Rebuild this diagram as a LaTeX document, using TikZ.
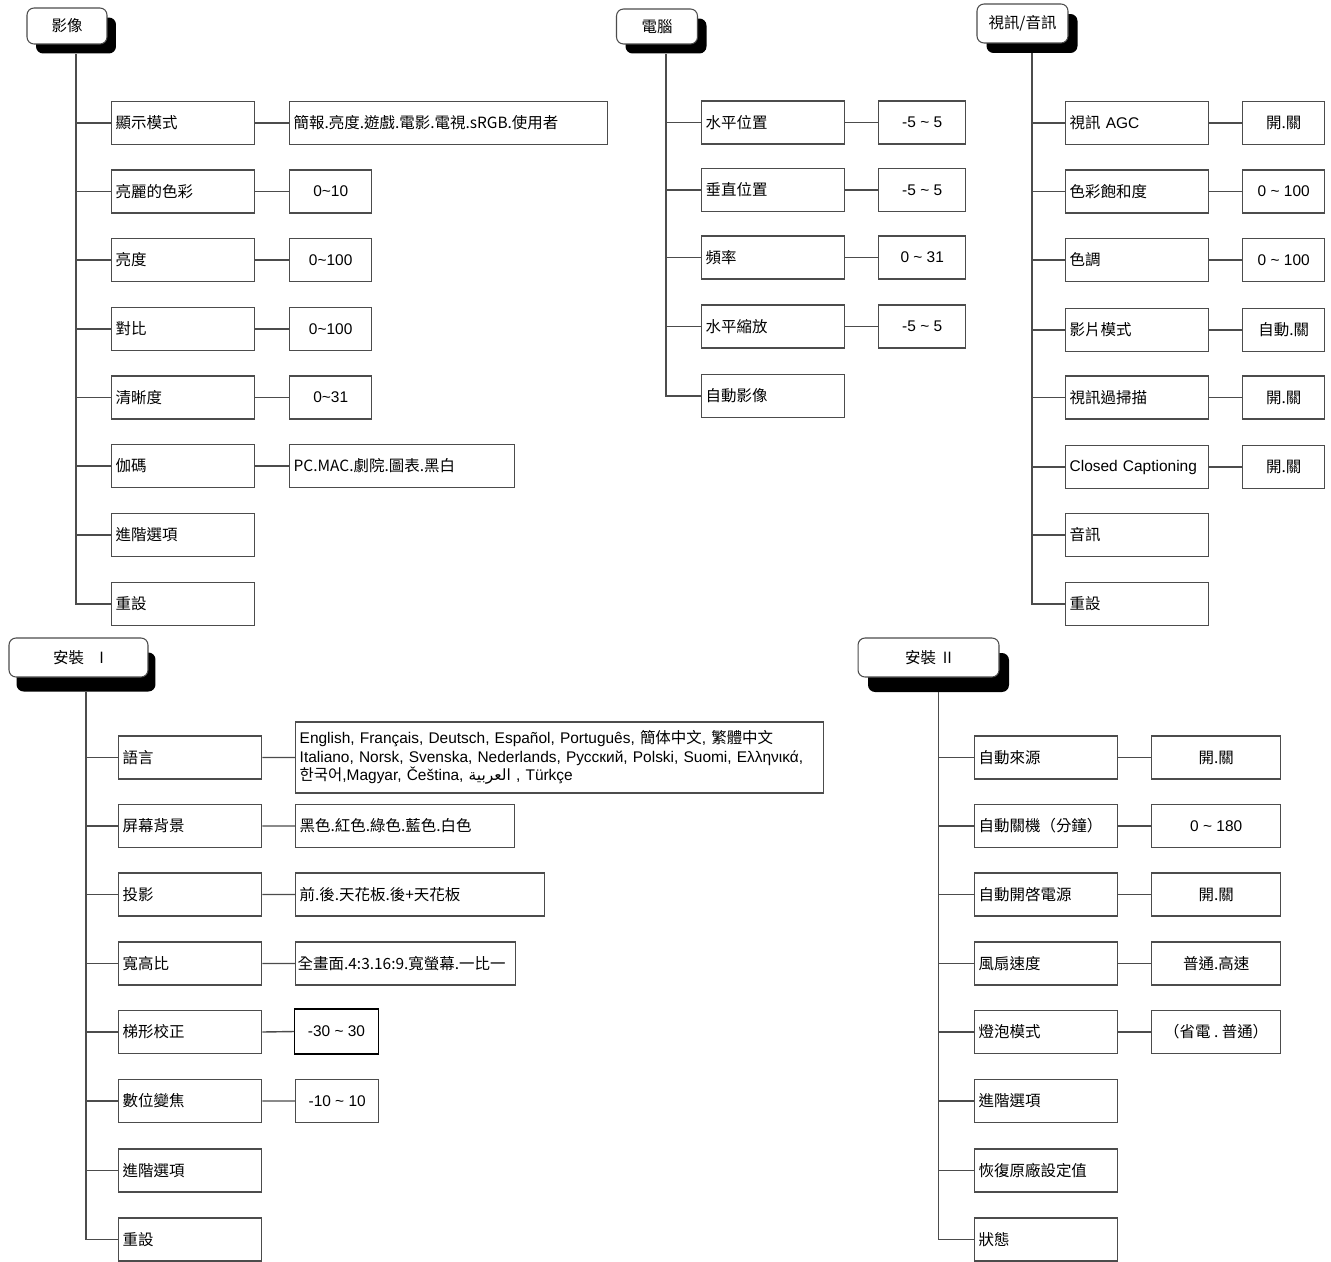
\documentclass[tikz,border=0pt]{standalone}
\usepackage{fontspec}
\setmainfont{Noto Sans CJK TC}
\newfontfamily\cjk{Noto Sans CJK TC}
\newfontfamily\lat{Liberation Sans}
\newfontfamily\kor{Noto Sans CJK KR}
\newfontfamily\arabicfont[Script=Arabic]{DejaVu Sans}
\TeXXeTstate=1
\newcommand{\tilda}{\textasciitilde}

\begin{document}
\begin{tikzpicture}[x=0.02cm,y=-0.02cm,
    font=\fontsize{8.8}{10.6}\selectfont,
    testa/.style={draw=black!70, fill=white, line width=0.6pt, rounded corners=4pt, inner sep=0pt},
    ombra/.style={fill=black, rounded corners=4pt, inner sep=0pt},
    voce/.style={draw=black!70, line width=0.8pt, anchor=west, minimum height=0.86cm, text width=2.70cm, inner xsep=0.08cm, align=left},
    valore/.style={draw=black!70, line width=0.8pt, anchor=west, minimum height=0.86cm, inner sep=0pt, align=center},
    lungo/.style={valore, align=left, inner xsep=0.08cm},
    numero/.style={valore, font=\fontsize{8.8}{10.6}\selectfont\lat},
    linea/.style={draw=black!70, line width=0.8pt}]

    % Sfondo e dimensioni
    \fill[white] (0,0) rectangle (1331,1261);
    \useasboundingbox (0,0) rectangle (1331,1261);

    % Intestazioni con ombra
    \node[ombra, minimum width=1.6cm, minimum height=0.72cm] (imgS) at (76,35.5) {};
    \node[testa, minimum width=1.6cm, minimum height=0.72cm] (img) at (67,26) {影像};
    \node[ombra, minimum width=1.62cm, minimum height=0.70cm] (pcS) at (666,36) {};
    \node[testa, minimum width=1.62cm, minimum height=0.70cm] (pc) at (657,26.5) {電腦};
    \node[ombra, minimum width=1.82cm, minimum height=0.78cm] (avS) at (1032,33.5) {};
    \node[testa, minimum width=1.82cm, minimum height=0.78cm] (av) at (1022.5,23.5) {視訊/音訊};
    \node[ombra, minimum width=2.78cm, minimum height=0.78cm] (insaS) at (86,672) {};
    \node[testa, minimum width=2.78cm, minimum height=0.78cm] (insa) at (78.5,657.5) {安裝\quad I};
    \node[ombra, minimum width=2.82cm, minimum height=0.78cm] (insbS) at (938.5,672.5) {};
    \node[testa, minimum width=2.82cm, minimum height=0.78cm] (insb) at (928.5,657.5) {安裝\ \ II};

    % Colonna immagine
    \node[voce] (img1) at (111,123) {顯示模式};
    \node[voce] (img2) at (111,191.5) {亮麗的色彩};
    \node[voce] (img3) at (111,260) {亮度};
    \node[voce] (img4) at (111,329) {對比};
    \node[voce] (img5) at (111,397.5) {清晰度};
    \node[voce] (img6) at (111,466) {伽碼};
    \node[voce] (img7) at (111,535) {進階選項};
    \node[voce] (img8) at (111,604) {重設};
    \node[lungo, text width=6.20cm] (img1v) at (289,123) {簡報.亮度.遊戲.電影.電視.sRGB.使用者};
    \node[numero, minimum width=1.64cm] (img2v) at (289,191.5) {0\tilda10};
    \node[numero, minimum width=1.64cm] (img3v) at (289,260) {0\tilda100};
    \node[numero, minimum width=1.64cm] (img4v) at (289,329) {0\tilda100};
    \node[numero, minimum width=1.64cm] (img5v) at (289,397.5) {0\tilda31};
    \node[lungo, text width=4.34cm] (img6v) at (289,466) {PC.MAC.劇院.圖表.黑白};

    % Colonna computer
    \node[voce] (pc1) at (701,122.5) {水平位置};
    \node[voce] (pc2) at (701,190) {垂直位置};
    \node[voce] (pc3) at (701,257.5) {頻率};
    \node[voce] (pc4) at (701,326.5) {水平縮放};
    \node[voce] (pc5) at (701,396) {自動影像};
    \node[numero, minimum width=1.74cm] (pc1v) at (878,122.5) {-5 \tilda{} 5};
    \node[numero, minimum width=1.74cm] (pc2v) at (878,190) {-5 \tilda{} 5};
    \node[numero, minimum width=1.74cm] (pc3v) at (878,257.5) {0 \tilda{} 31};
    \node[numero, minimum width=1.74cm] (pc4v) at (878,326.5) {-5 \tilda{} 5};

    % Colonna video/audio
    \node[voce] (av1) at (1065,123) {視訊\ {\lat AGC}};
    \node[voce] (av2) at (1065,191.5) {色彩飽和度};
    \node[voce] (av3) at (1065,260) {色調};
    \node[voce] (av4) at (1065,330) {影片模式};
    \node[voce] (av5) at (1065,397.5) {視訊過掃描};
    \node[voce, font=\fontsize{8.8}{10.6}\selectfont\lat] (av6) at (1065,467) {Closed Captioning};
    \node[voce] (av7) at (1065,535) {音訊};
    \node[voce] (av8) at (1065,604) {重設};
    \node[valore, minimum width=1.64cm] (av1v) at (1242,123) {開.關};
    \node[numero, minimum width=1.64cm] (av2v) at (1242,191.5) {0 \tilda{} 100};
    \node[numero, minimum width=1.64cm] (av3v) at (1242,260) {0 \tilda{} 100};
    \node[valore, minimum width=1.64cm] (av4v) at (1242,330) {自動.關};
    \node[valore, minimum width=1.64cm] (av5v) at (1242,397.5) {開.關};
    \node[valore, minimum width=1.64cm] (av6v) at (1242,467) {開.關};

    % Installazione I
    \node[voce] (insa1) at (118,757.5) {語言};
    \node[voce] (insa2) at (118,826) {屏幕背景};
    \node[voce] (insa3) at (118,894.5) {投影};
    \node[voce] (insa4) at (118,963.5) {寬高比};
    \node[voce] (insa5) at (118,1032) {梯形校正};
    \node[voce] (insa6) at (118,1101) {數位變焦};
    \node[voce] (insa7) at (118,1170.5) {進階選項};
    \node[voce] (insa8) at (118,1239.5) {重設};
    \node[lungo, text width=10.40cm, minimum height=1.42cm, font=\fontsize{8.8}{10.6}\selectfont\lat] (insa1v) at (295,757.5) {%
        English, Français, Deutsch, Español, Português, {\cjk 簡体中文}, {\cjk 繁體中文}\\
        Italiano, Norsk, Svenska, Nederlands, Русский, Polski, Suomi, Ελληνικά,\\
        {\kor 한국어},Magyar, Čeština, {\arabicfont\beginR العربية\endR} , Türkçe};
    \node[lungo, text width=4.22cm] (insa2v) at (295,826) {黑色.紅色.綠色.藍色.白色};
    \node[lungo, text width=4.82cm] (insa3v) at (295,894.5) {前.後.天花板.後+天花板};
    \node[lungo, text width=4.32cm, inner xsep=0.04cm] (insa4v) at (295,963.5) {全畫面.4:3.16:9.寬螢幕.一比一};
    \node[numero, draw=black, line width=0.6pt, minimum width=1.68cm, minimum height=0.9cm] (insa5v) at (294,1031.5) {-30 \tilda{} 30};
    \node[numero, minimum width=1.66cm] (insa6v) at (295,1101) {-10 \tilda{} 10};

    % Installazione II
    \node[voce] (insb1) at (974,757.5) {自動來源};
    \node[voce] (insb2) at (974,826) {自動關機（分鐘）};
    \node[voce] (insb3) at (974,894.5) {自動開啓電源};
    \node[voce] (insb4) at (974,963.5) {風扇速度};
    \node[voce] (insb5) at (974,1032) {燈泡模式};
    \node[voce] (insb6) at (974,1101) {進階選項};
    \node[voce] (insb7) at (974,1170.5) {恢復原廠設定值};
    \node[voce] (insb8) at (974,1239.5) {狀態};
    \node[valore, minimum width=2.58cm] (insb1v) at (1151,757.5) {開.關};
    \node[numero, minimum width=2.58cm] (insb2v) at (1151,826) {0 \tilda{} 180};
    \node[valore, minimum width=2.58cm] (insb3v) at (1151,894.5) {開.關};
    \node[valore, minimum width=2.58cm] (insb4v) at (1151,963.5) {普通.高速};
    \node[valore, minimum width=2.58cm] (insb5v) at (1151,1032) {（省電\ .\ 普通）};

    % Collegamenti
    \draw[linea] (imgS.south) |- (img1.west) (imgS.south) |- (img2.west)
        (imgS.south) |- (img3.west) (imgS.south) |- (img4.west)
        (imgS.south) |- (img5.west) (imgS.south) |- (img6.west)
        (imgS.south) |- (img7.west) (imgS.south) |- (img8.west);
    \draw[linea] (img1.east) -- (img1v.west) (img2.east) -- (img2v.west)
        (img3.east) -- (img3v.west) (img4.east) -- (img4v.west)
        (img5.east) -- (img5v.west) (img6.east) -- (img6v.west);

    \draw[linea] (pcS.south) |- (pc1.west) (pcS.south) |- (pc2.west)
        (pcS.south) |- (pc3.west) (pcS.south) |- (pc4.west)
        (pcS.south) |- (pc5.west);
    \draw[linea] (pc1.east) -- (pc1v.west) (pc2.east) -- (pc2v.west)
        (pc3.east) -- (pc3v.west) (pc4.east) -- (pc4v.west);

    \draw[linea] (avS.south) |- (av1.west) (avS.south) |- (av2.west)
        (avS.south) |- (av3.west) (avS.south) |- (av4.west)
        (avS.south) |- (av5.west) (avS.south) |- (av6.west)
        (avS.south) |- (av7.west) (avS.south) |- (av8.west);
    \draw[linea] (av1.east) -- (av1v.west) (av2.east) -- (av2v.west)
        (av3.east) -- (av3v.west) (av4.east) -- (av4v.west)
        (av5.east) -- (av5v.west) (av6.east) -- (av6v.west);

    \draw[linea] (insaS.south) |- (insa1.west) (insaS.south) |- (insa2.west)
        (insaS.south) |- (insa3.west) (insaS.south) |- (insa4.west)
        (insaS.south) |- (insa5.west) (insaS.south) |- (insa6.west)
        (insaS.south) |- (insa7.west) (insaS.south) |- (insa8.west);
    \draw[linea] (insa1.east) -- (insa1v.west) (insa2.east) -- (insa2v.west)
        (insa3.east) -- (insa3v.west) (insa4.east) -- (insa4v.west)
        (insa5.east) -- (insa5v.west) (insa6.east) -- (insa6v.west);

    \draw[linea] (insbS.south) |- (insb1.west) (insbS.south) |- (insb2.west)
        (insbS.south) |- (insb3.west) (insbS.south) |- (insb4.west)
        (insbS.south) |- (insb5.west) (insbS.south) |- (insb6.west)
        (insbS.south) |- (insb7.west) (insbS.south) |- (insb8.west);
    \draw[linea] (insb1.east) -- (insb1v.west) (insb2.east) -- (insb2v.west)
        (insb3.east) -- (insb3v.west) (insb4.east) -- (insb4v.west)
        (insb5.east) -- (insb5v.west);
\end{tikzpicture}
\end{document}
